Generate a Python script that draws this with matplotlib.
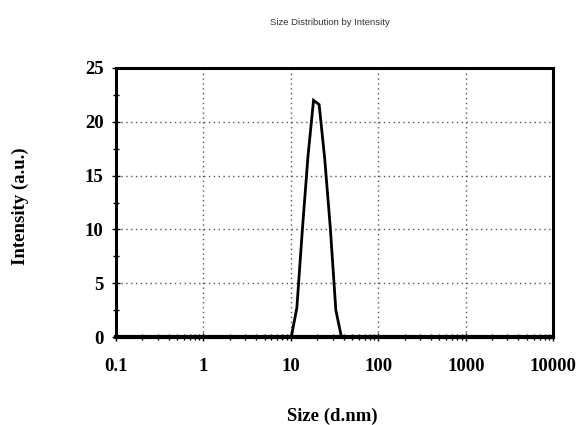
import matplotlib.pyplot as plt
import numpy as np
from matplotlib.ticker import FixedLocator, LogLocator, NullFormatter

# Data (size in d.nm, intensity in %)
size_nm = [0.1, 10.1, 11.7, 13.54, 15.69, 18.17, 21.04, 24.36, 28.21, 32.67, 37.84, 10000]
intensity = [0, 0, 2.7, 10.0, 16.8, 22.0, 21.6, 16.6, 10.2, 2.5, 0, 0]

x_ticks = [0.1, 1, 10, 100, 1000, 10000]
x_ticklabels = ["0.1", "1", "10", "100", "1000", "10000"]
y_ticks = [0, 5, 10, 15, 20, 25]

serif = ["Liberation Serif", "DejaVu Serif"]

fig = plt.figure(figsize=(5.76, 4.25), dpi=100)
ax = fig.add_axes([0.2014, 0.207, 0.759, 0.633])

ax.plot(size_nm, intensity, color="black", lw=2.0, solid_joinstyle="miter")

ax.set_xscale("log")
ax.set_xlim(0.1, 10000)
ax.set_ylim(0, 25)

ax.xaxis.set_major_locator(FixedLocator(x_ticks))
ax.set_xticklabels(x_ticklabels)
ax.xaxis.set_minor_locator(LogLocator(base=10, subs=np.arange(2, 10)))
ax.xaxis.set_minor_formatter(NullFormatter())
ax.set_yticks(y_ticks)
ax.yaxis.set_minor_locator(FixedLocator([2.5, 7.5, 12.5, 17.5, 22.5]))

ax.grid(True, which="major", linestyle=(0, (1, 2.5)), color="#555555", lw=1.0)
ax.tick_params(which="both", direction="inout", color="black", width=1.0)
ax.tick_params(which="major", length=6)
ax.tick_params(which="minor", length=5)
ax.tick_params(axis="x", pad=12)
ax.tick_params(axis="y", pad=6)

for s in ax.spines.values():
    s.set_linewidth(2.2)
ax.spines["bottom"].set_linewidth(3)

for lab in ax.get_xticklabels() + ax.get_yticklabels():
    lab.set_fontfamily(serif)
    lab.set_fontweight("bold")
    lab.set_fontsize(13.5)

ax.set_xlabel("Size (d.nm)", family=serif, fontweight="bold", fontsize=13.5)
ax.set_ylabel("Intensity (a.u.)", family=serif, fontweight="bold", fontsize=13.5)
ax.xaxis.set_label_coords(0.495, -0.262)
ax.yaxis.set_label_coords(-0.199, 0.485)

fig.text(0.572, 0.948, "Size Distribution by Intensity", ha="center", va="center",
         fontsize=6.8, color="#333333",
         family=["Liberation Sans", "DejaVu Sans"])

plt.savefig("out.png", dpi=100)
